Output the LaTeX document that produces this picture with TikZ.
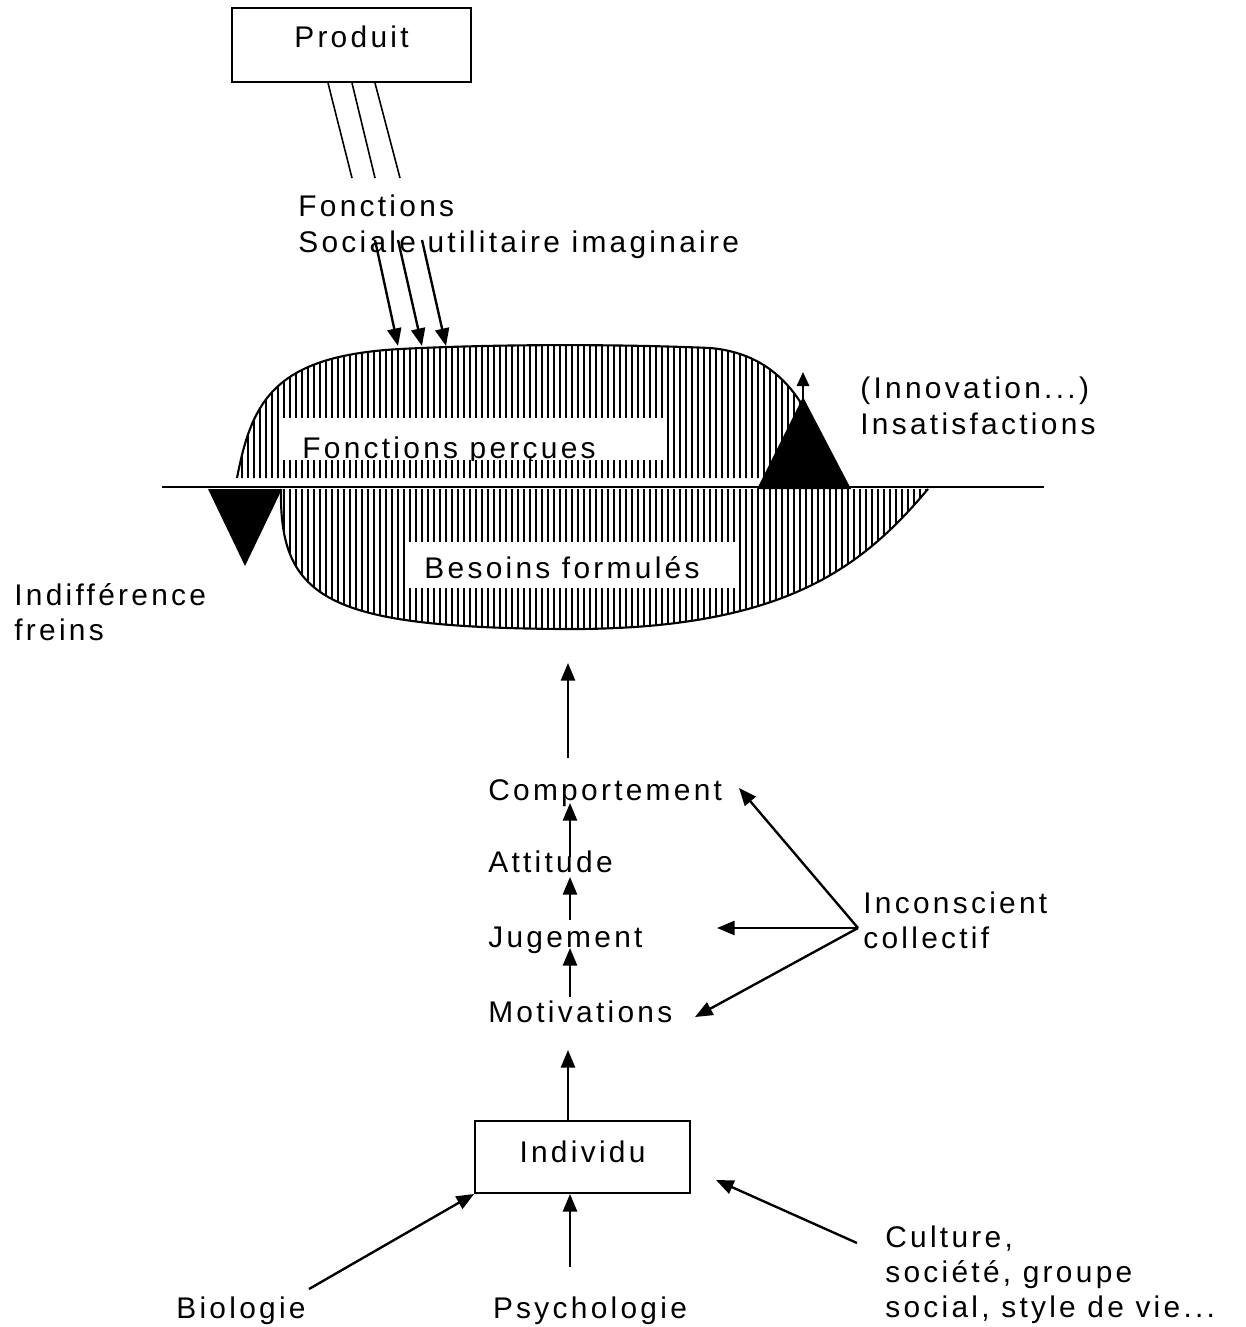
\documentclass[tikz,border=0pt]{standalone}
\usepackage{fontspec}
\setmainfont{Liberation Sans}[LetterSpace=11]
\usetikzlibrary{arrows.meta}
\begin{document}
\begin{tikzpicture}[x=0.02cm,y=-0.02cm,
  lab/.style={inner sep=0pt, font=\fontsize{17}{20}\selectfont},
  ml/.style={lab, align=left, anchor=north west},
  conn/.style={line width=1.35pt},
  arr/.style={conn, -{Triangle[length=10pt,width=8pt]}},
  thinline/.style={line width=0.9pt},
  hatch/.style={line width=1.1pt},
  outline/.style={line width=1.2pt},
  boxnode/.style={draw, line width=1.1pt, lab, anchor=base, inner xsep=0pt, inner ysep=0pt}
]
\useasboundingbox (0,0) rectangle (1245,1327);

% ---------- hatched areas ----------
\begin{scope}
  \clip (237,478) .. controls (252,400) and (275,356) .. (400,349)
        .. controls (520,343) and (640,345) .. (710,348)
        .. controls (790,355) and (815,420) .. (832,478) -- cycle;
  \foreach \x in {236,242,...,836} \draw[hatch] (\x,330) -- (\x,480);
\end{scope}
\begin{scope}
  \clip (281,489) .. controls (279,600) and (330,627) .. (560,629)
        .. controls (780,631) and (860,570) .. (928,489) -- cycle;
  \foreach \x in {278,284,...,932} \draw[hatch] (\x,487) -- (\x,640);
\end{scope}
\draw[outline] (237,478) .. controls (252,400) and (275,356) .. (400,349)
        .. controls (520,343) and (640,345) .. (710,348)
        .. controls (790,355) and (815,420) .. (832,478);
\draw[outline] (281,489) .. controls (279,600) and (330,627) .. (560,629)
        .. controls (780,631) and (860,570) .. (928,489);

% ---------- labels inside the areas ----------
\fill[white] (282,418) rectangle (667,460);
\fill[white] (405,542) rectangle (737,588);
\begin{scope}
  \clip (282,418) rectangle (667,460);
  \node[lab, anchor=base west] (percues) at (302,458) {Fonctions perçues};
\end{scope}
\node[lab, anchor=base] (besoins) at (562,578) {Besoins formulés};

% ---------- reference line and triangles ----------
\coordinate (lineL) at (162,487);
\coordinate (lineR) at (1044,487);
\draw[thinline] (lineL) -- (lineR);
\fill (757,489) -- (851,489) -- (803,397) -- cycle;
\fill (208,489) -- (282,489) -- (245,566) -- cycle;
\coordinate (apex) at (803,399);
\coordinate (apexTip) at (803,372);
\draw[conn, -{Triangle[length=8pt,width=7pt]}] (apex) -- (apexTip);

% ---------- text nodes ----------
\node[boxnode, minimum width=4.78cm, text height=0.8cm, text depth=0.68cm] (produit) at (351.5,48) {Produit};
\node[ml] (fonct) at (298,195) {Fonctions\\Sociale utilitaire imaginaire};
\node[ml] (innov) at (860,377) {(Innovation...)\\Insatisfactions};
\node[ml] (indiff) at (14,583) {Indifférence\\freins};
\node[lab, anchor=base west] (comport) at (488,800) {Comportement};
\node[lab, anchor=base west] (attitude) at (488,872) {Attitude};
\node[lab, anchor=base west] (jugement) at (488,947) {Jugement};
\node[lab, anchor=base west] (motiv) at (488,1022) {Motivations};
\node[ml] (incons) at (863,891) {Inconscient\\collectif};
\node[boxnode, minimum width=4.3cm, text height=0.82cm, text depth=0.62cm] (individu) at (582.5,1162) {Individu};
\node[lab, anchor=base] (bio) at (241,1318) {Biologie};
\node[lab, anchor=base] (psy) at (590,1318) {Psychologie};
\node[ml] (cult) at (885,1225) {Culture,\\société, groupe\\social, style de vie...};

% ---------- product functions ----------
\coordinate (pa) at (328,83);  \coordinate (pb) at (352,83);  \coordinate (pc) at (375,83);
\coordinate (qa) at (352,178); \coordinate (qb) at (375,178); \coordinate (qc) at (400,178);
\draw[thinline] (pa) -- (qa);
\draw[thinline] (pb) -- (qb);
\draw[thinline] (pc) -- (qc);
\coordinate (fa) at (375,240); \coordinate (fb) at (398,240); \coordinate (fc) at (422,240);
\coordinate (ta) at (398,346); \coordinate (tb) at (422,346); \coordinate (tc) at (446,346);
\draw[arr] (fa) -- (ta);
\draw[arr] (fb) -- (tb);
\draw[arr] (fc) -- (tc);

% ---------- vertical chain ----------
\coordinate (needTip) at (568,663);
\coordinate (needFoot) at (568,758);
\draw[arr] (needFoot) -- (needTip);
\draw[arr] (570,857) -- (570,803);
\draw[arr] (570,920) -- (570,877);
\draw[arr] (570,997) -- (570,948);
\draw[arr] (individu.north -| needTip) -- (568,1050);

% ---------- collective unconscious ----------
\coordinate (ic) at (858,928);
\draw[arr] (ic) -- (739,788);
\draw[arr] (ic) -- (717,928);
\draw[arr] (ic) -- (695,1017);

% ---------- influences on the individual ----------
\draw[arr] (309,1289) -- (individu.south west);
\draw[arr] (570,1267) -- (individu.south -| 570,0);
\draw[arr] (857,1243) -- (716,1180);
\end{tikzpicture}
\end{document}
